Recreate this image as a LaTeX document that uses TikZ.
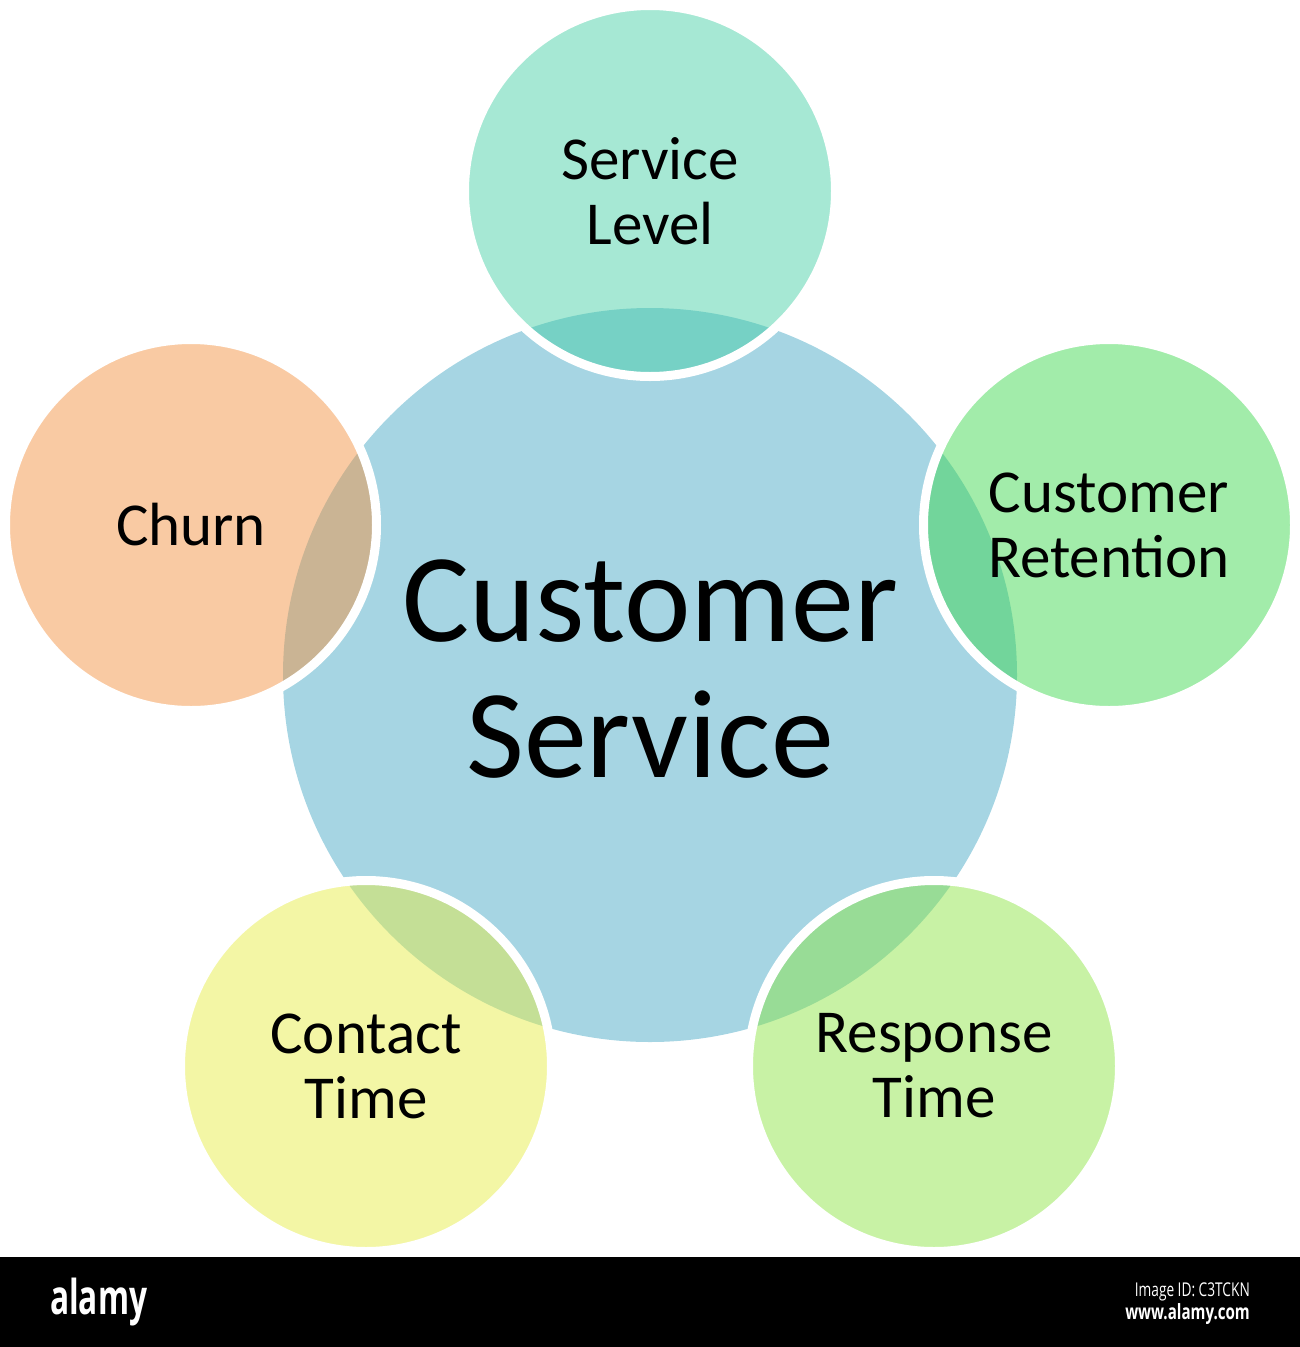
\documentclass[tikz,border=0pt]{standalone}
\usepackage{fontspec}
\setmainfont{Carlito}
\newfontfamily\wmfont[FakeStretch=0.72]{Open Sans}
\newfontfamily\wmlogo[FakeStretch=0.66]{Open Sans}
\definecolor{cmain}{RGB}{166,213,227}
\definecolor{csl}{RGB}{66,206,164}
\definecolor{cret}{RGB}{57,215,74}
\definecolor{cchurn}{RGB}{243,143,60}
\definecolor{ccont}{RGB}{230,236,64}
\definecolor{cresp}{RGB}{138,228,64}
\begin{document}
\begin{tikzpicture}[x=1pt,y=-1pt,
  hub/.style={circle,minimum size=734pt,inner sep=0pt,fill=cmain,align=center,
    font=\fontsize{126}{136}\selectfont},
  petal/.style={circle,minimum size=371pt,inner sep=0pt,fill=#1,fill opacity=0.47,
    text opacity=1,draw=white,draw opacity=1,line width=9pt,align=center,
    font=\fontsize{61}{65}\selectfont},
  wm/.style={text=white,inner sep=0pt}]
\useasboundingbox (0,0) rectangle (1300,1347);
\node[hub] (cs) at (650,675) {};
\node[align=center,font=\fontsize{126}{136}\selectfont,inner sep=0pt] (cstext) at (650,669) {Customer\\Service};
\node[petal=csl] (sl) at (650,191) {Service\\Level};
\node[petal=cret] (cr) at (1109,525) {Customer\\Retention};
\node[petal=cchurn] (ch) at (191,525) {Churn};
\node[petal=ccont] (ct) at (366,1066) {Contact\\Time};
\node[petal=cresp] (rt) at (934,1066) {Response\\Time};
\fill[black] (0,1257) rectangle (1300,1347);
\node[wm,anchor=west,font=\wmlogo\bfseries\fontsize{48}{48}\selectfont] (al) at (50,1302) {alamy};
\node[wm,anchor=east,font=\wmfont\fontsize{19}{19}\selectfont] (id) at (1250,1292) {Image ID: C3TCKN};
\node[wm,anchor=east,font=\wmfont\bfseries\fontsize{21}{21}\selectfont] (www) at (1250,1314) {www.alamy.com};
\end{tikzpicture}
\end{document}
